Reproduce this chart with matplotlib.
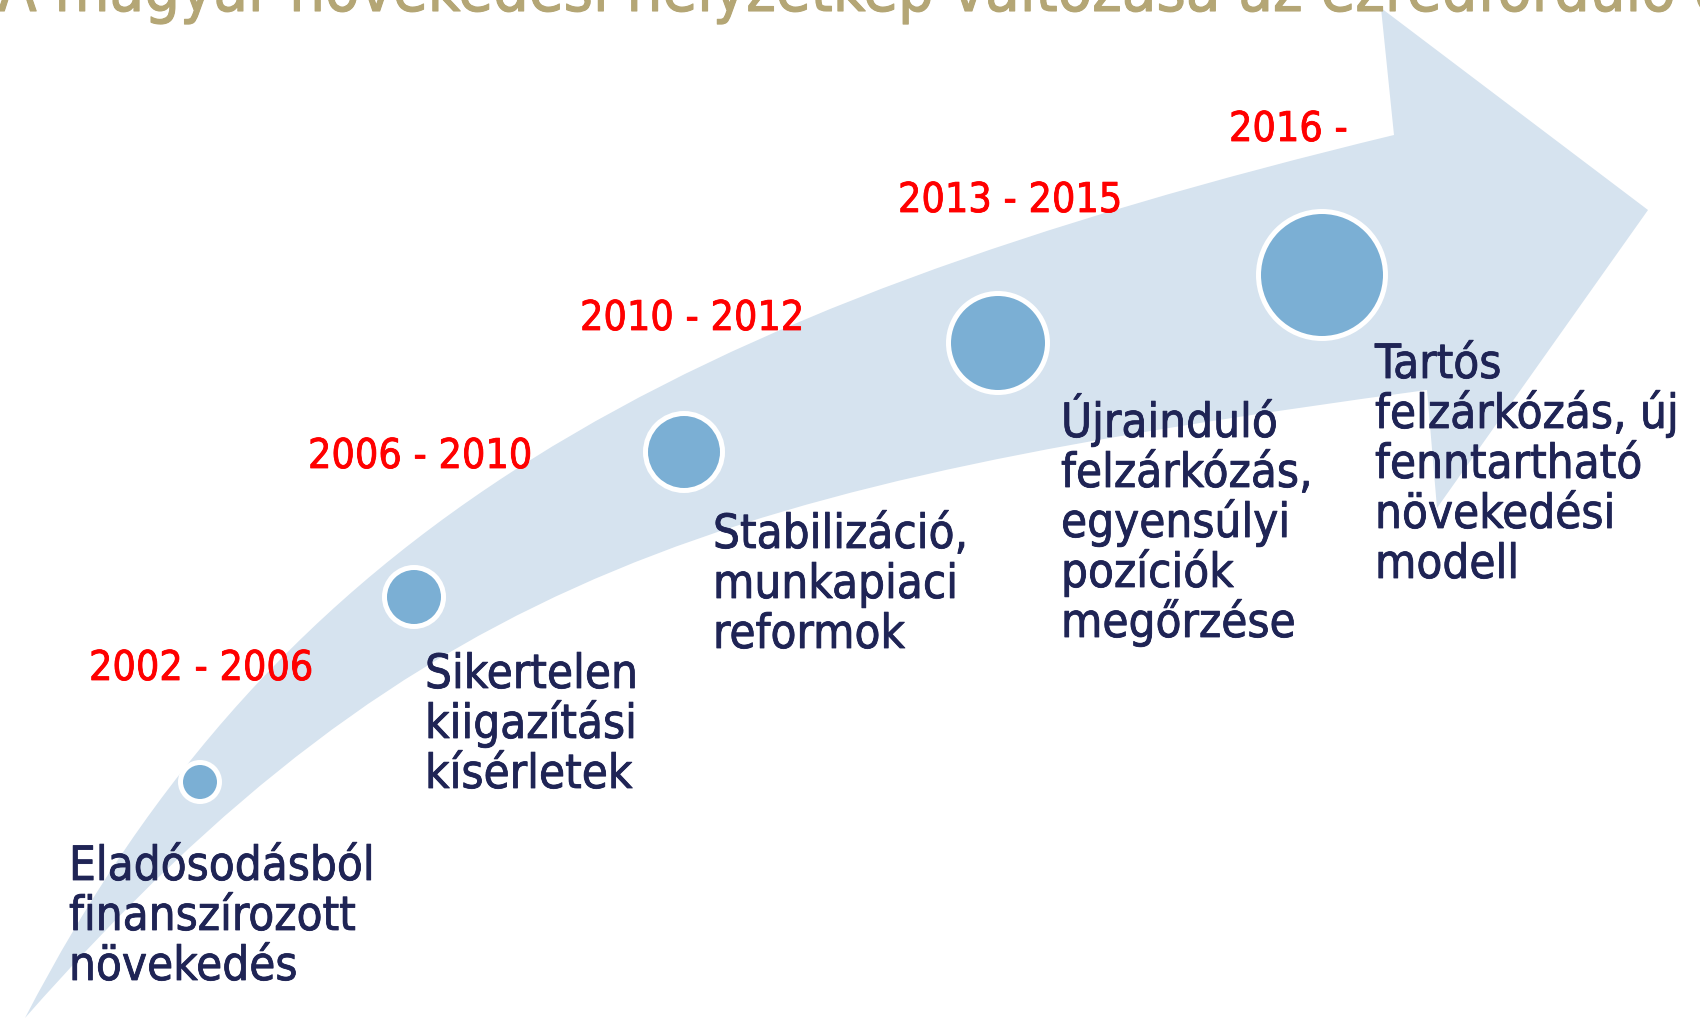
import matplotlib
matplotlib.use("Agg")
import matplotlib.pyplot as plt
import matplotlib.patheffects as pe
from matplotlib.path import Path
from matplotlib.patches import PathPatch, Circle

# szakaszok (évek), leírások
periods = ["2002 - 2006", "2006 - 2010", "2010 - 2012", "2013 - 2015", "2016 -"]
labels = [
    ["Eladósodásból", "finanszírozott", "növekedés"],
    ["Sikertelen", "kiigazítási", "kísérletek"],
    ["Stabilizáció,", "munkapiaci", "reformok"],
    ["Újrainduló", "felzárkózás,", "egyensúlyi", "pozíciók", "megőrzése"],
    ["Tartós", "felzárkózás, új", "fenntartható", "növekedési", "modell"],
]
title = "A magyar növekedési helyzetkép változása az ezredforduló óta"

# pontok helye es merete (pixel)
dot_x = [200, 414, 684, 998, 1322]
dot_y = [782, 597, 452, 343, 275]
dot_r = [17, 27, 36, 47, 61]

# feliratok helye
period_x = [89, 308, 580, 898, 1229]
period_y = [680, 468, 330, 212, 141]
label_x = [69, 425, 713, 1061, 1375]
label_y = [880, 688, 548, 437, 378]

arrow_col = "#D6E3EF"
dot_col = "#7BAFD4"
text_col = "#1F2455"
red = "#FF0000"
tan = "#B4A675"

W, H = 1700, 1018
fig = plt.figure(figsize=(W / 100, H / 100), dpi=100)
ax = fig.add_axes([0, 0, 1, 1])
ax.set_xlim(0, W)
ax.set_ylim(H, 0)
ax.axis("off")

# ives nyil
verts = [
    (25, 1018),
    (278, 529), (667, 311), (1394, 135),
    (1381, 8),
    (1648, 210),
    (1437, 508),
    (1427, 390),
    (734, 484), (421, 568), (25, 1018),
    (25, 1018),
]
codes = [Path.MOVETO,
         Path.CURVE4, Path.CURVE4, Path.CURVE4,
         Path.LINETO, Path.LINETO, Path.LINETO, Path.LINETO,
         Path.CURVE4, Path.CURVE4, Path.CURVE4,
         Path.CLOSEPOLY]
ax.add_patch(PathPatch(Path(verts, codes), facecolor=arrow_col, edgecolor="none", zorder=1))

ring = 5
for x, y, r in zip(dot_x, dot_y, dot_r):
    ax.add_patch(Circle((x, y), r + ring / 2, facecolor=dot_col, edgecolor="white",
                        linewidth=ring * 0.72, zorder=3))

font = dict(family="DejaVu Sans", fontstretch="condensed")


def heavy(c, w):
    # Tahoma-szeru vastagabb vonal
    return [pe.withStroke(linewidth=w, foreground=c)]


ax.text(-2, 11, title, color=tan, fontsize=45.2, va="baseline", ha="left", zorder=2,
        path_effects=heavy(tan, 0.8), **font)

for p, x, y in zip(periods, period_x, period_y):
    ax.text(x, y, p, color=red, fontsize=29.5, va="baseline", ha="left", zorder=4,
            path_effects=heavy(red, 0.6), **font)

line_step = 50
for lines, x, y in zip(labels, label_x, label_y):
    for i, ln in enumerate(lines):
        ax.text(x, y + i * line_step, ln, color=text_col, fontsize=34, va="baseline",
                ha="left", zorder=4, path_effects=heavy(text_col, 0.6), **font)

fig.savefig("out.png", dpi=100)
